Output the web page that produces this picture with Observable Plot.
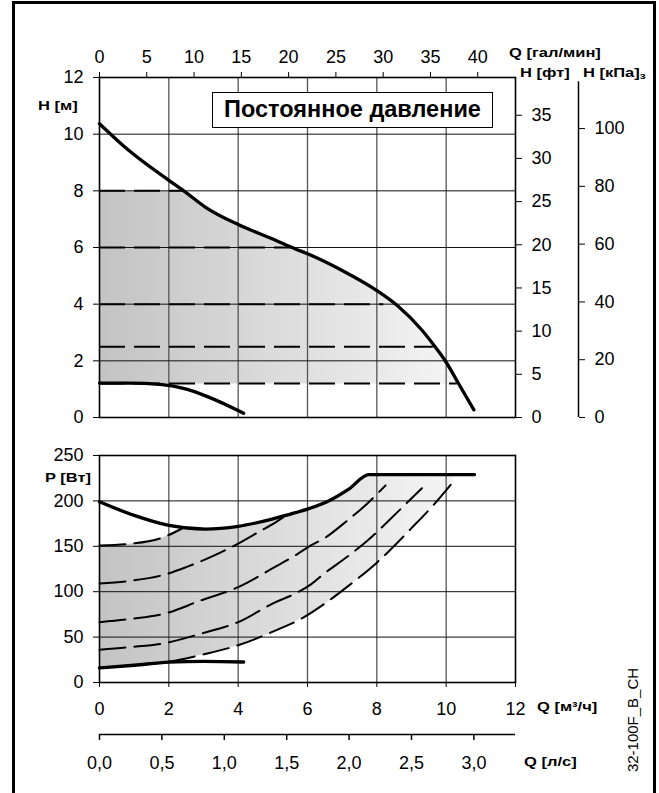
<!DOCTYPE html>
<html><head><meta charset="utf-8">
<script src="https://cdn.jsdelivr.net/npm/d3@7"></script>
<script src="https://cdn.jsdelivr.net/npm/@observablehq/plot@0.6"></script>
<style>
body{margin:0;background:#fff;}
#wrap{position:relative;width:659px;height:793px;overflow:hidden;font-family:"Liberation Sans",Arial,sans-serif;color:#000;}
#border{position:absolute;left:12px;top:1px;width:644px;height:900px;border:3px solid #000;box-sizing:border-box;}
.lbl{position:absolute;font-weight:bold;font-size:12.5px;line-height:12px;white-space:nowrap;transform:scaleX(1.32);transform-origin:0 50%;}
#legend{position:absolute;left:212px;top:92px;width:281px;height:36px;box-sizing:border-box;border:1.5px solid #000;background:#fff;font-weight:bold;font-size:23.5px;line-height:33px;text-align:center;white-space:nowrap;}
#code{position:absolute;left:632px;top:720px;transform:translate(-50%,-50%) rotate(-90deg);font-size:15px;white-space:nowrap;line-height:15px;}
.plot{position:absolute;left:0;}
</style></head>
<body>
<div id="wrap">
  <div id="border"></div>
</div>
<script>
// ---------- data ----------
// Head curves (Q in m3/h, H in m)
const qHeadMax = [0, 0.85, 2, 2.43, 3.06, 4, 4.98, 5.65, 6, 7, 8, 8.59, 9.31, 9.69, 10, 10.36, 10.8];
const hHeadMax = [10.37, 9.42, 8.37, 8.0, 7.42, 6.81, 6.31, 5.95, 5.78, 5.19, 4.48, 3.95, 3.07, 2.48, 1.95, 1.19, 0.27];
const qHeadMin = [0, 0.85, 1.81, 2.48, 3.15, 4.16];
const hHeadMin = [1.21, 1.21, 1.16, 1.01, 0.72, 0.15];
// constant pressure settings (m) and where their dashed lines end (m3/h)
const pressureLevels = [8, 6, 4, 2.5, 1.2];
const pressureEnds = [2.43, 5.6, 8.2, 9.63, 10.32];

// Power curves (Q in m3/h, P in W)
const qPowMax = [0, 1, 2, 3.06, 4, 4.98, 5.65, 6, 6.61, 7.19, 7.77, 10.82];
const pPowMax = [199, 184, 173, 169, 172, 180, 187, 191, 200, 213, 229, 229];
const qPowMin = [0, 1, 2, 3, 4.16];
const pPowMin = [16, 19, 22.4, 23.3, 22.6];
// dashed power curves for the 5 pressure settings
const qPow8 = [0, 0.85, 1.8, 2.45];
const pPow8 = [151, 152.7, 159.4, 171];
const qPow6 = [0, 0.9, 1.9, 2.5, 3.2, 4, 4.6, 5.1, 5.3];
const pPow6 = [109, 112, 119, 127, 138, 153, 166, 177, 182];
const qPow4 = [0, 0.9, 1.9, 2.9, 4, 5.05, 5.65, 6.1, 6.45, 7.2, 7.55, 8.25];
const pPow4 = [66.4, 70, 76, 90, 105, 127, 140, 151, 158, 180, 191, 217];
const qPow25 = [0, 0.9, 1.9, 2.95, 4, 5.05, 5.65, 6.1, 6.45, 7.2, 7.75, 8.55, 9.3];
const pPow25 = [36, 39, 43.5, 54, 66.5, 88, 98, 108, 119, 140, 157, 186, 214];
const qPow12 = [0, 1, 2, 3, 4, 5, 5.9, 6.5, 7.2, 8, 9, 9.6, 10.2];
const pPow12 = [16, 19, 23, 31, 41, 56, 72, 87, 107, 132, 170, 194, 221];

// ticks
const qTicks = [0, 2, 4, 6, 8, 10, 12];
const hTicks = [0, 2, 4, 6, 8, 10, 12];
const galTicks = [0, 5, 10, 15, 20, 25, 30, 35, 40];
const ftTicks = [0, 5, 10, 15, 20, 25, 30, 35];
const kpaTicks = [0, 20, 40, 60, 80, 100];
const pTicks = [0, 50, 100, 150, 200, 250];
const lsTicks = [0, 0.5, 1, 1.5, 2, 2.5, 3];

// unit conversions
const GAL = 0.272765;   // m3/h per imperial gal/min
const FT = 0.3048;      // m per ft
const KPA = 9.80665;    // kPa per m
const LS = 3.6;         // m3/h per l/s

// ---------- build ----------
const zip = (qs, vs, key) => qs.map((q, i) => ({q, [key]: vs[i]}));
const headMax = zip(qHeadMax, hHeadMax, "h");
const headMin = zip(qHeadMin, hHeadMin, "h");
const pressLines = pressureLevels.map((h, i) => ({h, end: pressureEnds[i]}));
const hiLevel = pressureLevels[0], loLevel = pressureLevels[pressureLevels.length - 1];
const topPoly = [
  {q: 0, h: hiLevel},
  ...headMax.filter(d => d.h <= hiLevel + 0.01 && d.h >= loLevel - 0.02),
  {q: 0, h: loLevel}
];

const powMax = zip(qPowMax, pPowMax, "p");
const powMin = zip(qPowMin, pPowMin, "p");
const dashSets = [[qPow8, pPow8], [qPow6, pPow6], [qPow4, pPow4], [qPow25, pPow25], [qPow12, pPow12]];
const dashed = dashSets.flatMap(([qs, ps], k) => qs.map((q, i) => ({q, p: ps[i], s: pressureLevels[k]})));
const d1 = zip(qPow8, pPow8, "p");
const d5 = zip(qPow12, pPow12, "p");
const d5End = d5[d5.length - 1].q;
const plateau = d3.max(pPowMax);
const botPoly = [
  ...d5,
  {q: d5End, p: plateau},
  ...powMax.filter(d => d.q > d1[d1.length - 1].q && d.q <= d5End).reverse(),
  ...d1.slice().reverse()
];

function gradDefs(id) {
  return () => {
    const defs = d3.create("svg:defs");
    const g = defs.append("linearGradient").attr("id", id)
      .attr("x1", "0").attr("x2", "1").attr("y1", "0").attr("y2", "0");
    g.append("stop").attr("offset", "0").attr("stop-color", "#c3c3c3");
    g.append("stop").attr("offset", "1").attr("stop-color", "#f5f5f5");
    return defs.node();
  };
}

const FONT = "Liberation Sans, Arial, sans-serif";
const dash = "26,9";

const topChart = Plot.plot({
  width: 659, height: 430,
  marginLeft: 99, marginRight: 144, marginTop: 77, marginBottom: 13,
  style: {fontFamily: FONT, fontSize: "18px", background: "transparent", overflow: "visible", color: "#000"},
  x: {domain: [0, 12], label: null},
  y: {domain: [0, 12], label: null},
  marks: [
    gradDefs("gradTop"),
    Plot.line(topPoly, {x: "q", y: "h", fill: "url(#gradTop)", stroke: "none"}),
    Plot.gridX(qTicks.slice(1, -1), {stroke: "#555", strokeOpacity: 1, strokeWidth: 1.3}),
    Plot.gridY(hTicks.slice(1, -1), {stroke: "#111", strokeOpacity: 1, strokeWidth: 1}),
    Plot.frame({stroke: "#000", strokeWidth: 1.6}),
    Plot.axisY(hTicks, {anchor: "left", tickSize: 6, tickPadding: 10, fontSize: 18, label: null}),
    Plot.axisX(galTicks.map(g => g * GAL), {anchor: "top", tickSize: 6, tickPadding: 9, fontSize: 18, label: null,
      tickFormat: d => String(Math.round(d / GAL))}),
    Plot.axisY(ftTicks.map(f => f * FT), {anchor: "right", tickSize: 6, tickPadding: 10, fontSize: 18, label: null,
      tickFormat: d => String(Math.round(d / FT))}),
    Plot.axisY(kpaTicks.map(k => k / KPA), {anchor: "right", dx: 63, tickSize: 6, tickPadding: 10, fontSize: 18, label: null,
      tickFormat: d => String(Math.round(d * KPA))}),
    Plot.ruleX([12], {dx: 63, y1: 0, y2: 11.85, stroke: "#000", strokeWidth: 1.5}),
    Plot.ruleY(pressLines, {y: "h", x1: 0, x2: "end", stroke: "#000", strokeWidth: 2, strokeDasharray: dash}),
    Plot.line(headMax, {x: "q", y: "h", curve: "monotone-x", stroke: "#000", strokeWidth: 3.3, strokeLinecap: "round"}),
    Plot.line(headMin, {x: "q", y: "h", curve: "monotone-x", stroke: "#000", strokeWidth: 3.3, strokeLinecap: "round"})
  ]
});

const botChart = Plot.plot({
  width: 659, height: 363,
  marginLeft: 99, marginRight: 144, marginTop: 25, marginBottom: 111,
  style: {fontFamily: FONT, fontSize: "18px", background: "transparent", overflow: "visible", color: "#000"},
  x: {domain: [0, 12], label: null},
  y: {domain: [0, 250], label: null},
  marks: [
    gradDefs("gradBot"),
    Plot.line(botPoly, {x: "q", y: "p", fill: "url(#gradBot)", stroke: "none"}),
    Plot.gridX(qTicks.slice(1, -1), {stroke: "#555", strokeOpacity: 1, strokeWidth: 1.3}),
    Plot.gridY(pTicks.slice(1, -1), {stroke: "#111", strokeOpacity: 1, strokeWidth: 1}),
    Plot.frame({stroke: "#000", strokeWidth: 1.6}),
    Plot.axisY(pTicks, {anchor: "left", tickSize: 6, tickPadding: 10, fontSize: 18, label: null}),
    Plot.axisX(qTicks, {anchor: "bottom", tickSize: 5, tickPadding: 15, fontSize: 18, label: null}),
    // l/s axis
    Plot.ruleY([0], {dy: 52, stroke: "#000", strokeWidth: 1.5}),
    Plot.tickX(lsTicks, {x: d => d * LS, dy: 52, insetTop: 227, insetBottom: -6, stroke: "#000", strokeWidth: 1.5}),
    Plot.text(lsTicks, {x: d => d * LS, text: d => d.toFixed(1).replace(".", ","), frameAnchor: "bottom", dy: 86, fontSize: 18}),
    Plot.line(dashed, {x: "q", y: "p", z: "s", curve: "monotone-x", stroke: "#000", strokeWidth: 2, strokeDasharray: dash}),
    Plot.line(powMax, {x: "q", y: "p", curve: "monotone-x", stroke: "#000", strokeWidth: 3.3, strokeLinecap: "round"}),
    Plot.line(powMin, {x: "q", y: "p", curve: "monotone-x", stroke: "#000", strokeWidth: 3.3, strokeLinecap: "round"})
  ]
});

const wrap = document.getElementById("wrap");
topChart.classList.add("plot"); topChart.style.top = "0px";
botChart.classList.add("plot"); botChart.style.top = "430px";
wrap.appendChild(topChart);
wrap.appendChild(botChart);

function addLabel(html, left, top, cls, id) {
  const d = document.createElement("div");
  if (cls) d.className = cls;
  if (id) d.id = id;
  d.innerHTML = html;
  if (left != null) d.style.left = left + "px";
  if (top != null) d.style.top = top + "px";
  wrap.appendChild(d);
}
addLabel("Q [гал/мин]", 509, 47, "lbl");
addLabel("H [фт]", 520, 67, "lbl");
addLabel('H [кПа]<span style="font-size:9px;position:relative;top:2px">з</span>', 583, 67, "lbl");
addLabel("H [м]", 38, 100, "lbl");
addLabel("P [Вт]", 45, 472, "lbl");
addLabel("Q [м³/ч]", 537, 701, "lbl");
addLabel("Q [л/с]", 524, 756, "lbl");
addLabel("Постоянное давление", null, null, null, "legend");
addLabel("32-100F_B_CH", null, null, null, "code");
</script>
</body></html>
